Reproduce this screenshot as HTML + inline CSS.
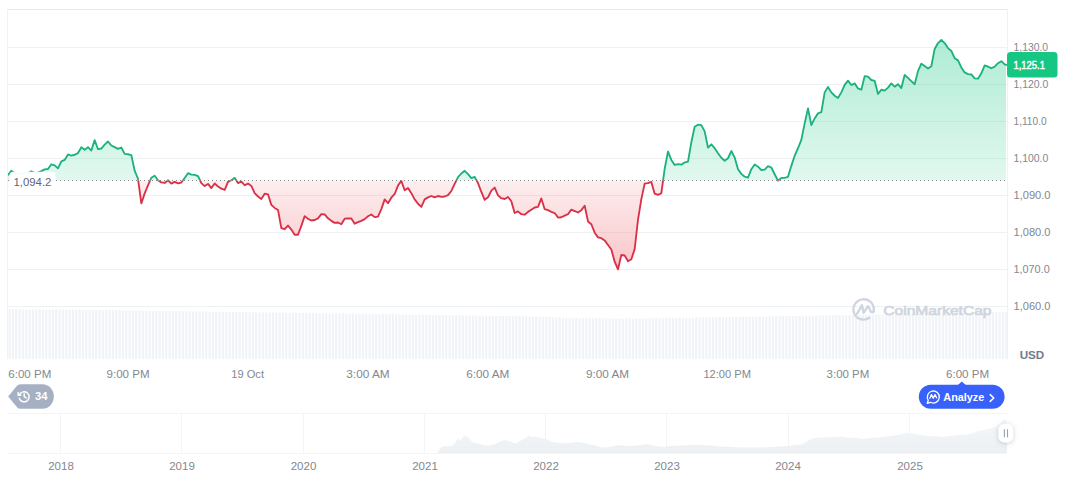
<!DOCTYPE html>
<html><head><meta charset="utf-8"><title>Chart</title>
<style>
html,body{margin:0;padding:0;background:#fff;}
body{width:1072px;height:477px;overflow:hidden;font-family:"Liberation Sans",sans-serif;}
svg{display:block;font-family:"Liberation Sans",sans-serif;}
.ax text{font-size:11px;fill:#838790;}
.grid line{stroke:#f0f1f3;stroke-width:1;}
.nv line{stroke:#f3f4f6;}
</style></head><body>
<svg width="1072" height="477" viewBox="0 0 1072 477">
<defs>
<linearGradient id="gg" gradientUnits="userSpaceOnUse" x1="0" y1="38" x2="0" y2="180.5">
<stop offset="0" stop-color="#16c784" stop-opacity="0.345"/><stop offset="1" stop-color="#16c784" stop-opacity="0.127"/></linearGradient>
<linearGradient id="rg" gradientUnits="userSpaceOnUse" x1="0" y1="180.5" x2="0" y2="270">
<stop offset="0" stop-color="#ea3943" stop-opacity="0.086"/><stop offset="1" stop-color="#ea3943" stop-opacity="0.29"/></linearGradient>
<linearGradient id="ng" gradientUnits="userSpaceOnUse" x1="0" y1="418" x2="0" y2="453"><stop offset="0" stop-color="#f5f7f9"/><stop offset="1" stop-color="#edf0f3"/></linearGradient>
<clipPath id="up"><rect x="0" y="0" width="1072" height="180.5"/></clipPath>
<clipPath id="dn"><rect x="0" y="180.5" width="1072" height="300"/></clipPath>
<clipPath id="plotf"><rect x="8" y="0" width="998" height="400"/></clipPath>
<clipPath id="plot"><rect x="8" y="0" width="999.5" height="400"/></clipPath>
<filter id="sh" x="-50%" y="-50%" width="200%" height="200%"><feDropShadow dx="0" dy="1" stdDeviation="2.4" flood-color="#58667e" flood-opacity="0.32"/></filter>
</defs>
<rect width="1072" height="477" fill="#fff"/>
<g class="grid"><line x1="8" x2="1008" y1="47.5" y2="47.5"/><line x1="8" x2="1008" y1="84.5" y2="84.5"/><line x1="8" x2="1008" y1="121.5" y2="121.5"/><line x1="8" x2="1008" y1="158.5" y2="158.5"/><line x1="8" x2="1008" y1="195.5" y2="195.5"/><line x1="8" x2="1008" y1="232.5" y2="232.5"/><line x1="8" x2="1008" y1="269.5" y2="269.5"/><line x1="8" x2="1008" y1="306.5" y2="306.5"/>
<line x1="7.5" x2="1008" y1="9.5" y2="9.5" style="stroke:#e7e8ea"/>
<line x1="7.5" x2="7.5" y1="9" y2="359" style="stroke:#f1f2f4"/>
<line x1="1007.5" x2="1007.5" y1="9" y2="359"/>
</g>
<path d="M8.50,309.30h2.2V358.8h-2.2ZM11.83,309.32h2.2V358.8h-2.2ZM15.17,309.34h2.2V358.8h-2.2ZM18.50,309.36h2.2V358.8h-2.2ZM21.83,309.38h2.2V358.8h-2.2ZM25.17,309.40h2.2V358.8h-2.2ZM28.50,309.42h2.2V358.8h-2.2ZM31.83,309.43h2.2V358.8h-2.2ZM35.17,309.45h2.2V358.8h-2.2ZM38.50,309.47h2.2V358.8h-2.2ZM41.83,309.49h2.2V358.8h-2.2ZM45.17,309.51h2.2V358.8h-2.2ZM48.50,309.53h2.2V358.8h-2.2ZM51.83,309.55h2.2V358.8h-2.2ZM55.17,309.57h2.2V358.8h-2.2ZM58.50,309.59h2.2V358.8h-2.2ZM61.83,309.62h2.2V358.8h-2.2ZM65.17,309.66h2.2V358.8h-2.2ZM68.50,309.70h2.2V358.8h-2.2ZM71.83,309.75h2.2V358.8h-2.2ZM75.17,309.79h2.2V358.8h-2.2ZM78.50,309.83h2.2V358.8h-2.2ZM81.83,309.87h2.2V358.8h-2.2ZM85.17,309.92h2.2V358.8h-2.2ZM88.50,309.96h2.2V358.8h-2.2ZM91.83,310.00h2.2V358.8h-2.2ZM95.17,310.05h2.2V358.8h-2.2ZM98.50,310.09h2.2V358.8h-2.2ZM101.83,310.13h2.2V358.8h-2.2ZM105.17,310.17h2.2V358.8h-2.2ZM108.50,310.22h2.2V358.8h-2.2ZM111.83,310.26h2.2V358.8h-2.2ZM115.17,310.30h2.2V358.8h-2.2ZM118.50,310.35h2.2V358.8h-2.2ZM121.83,310.39h2.2V358.8h-2.2ZM125.17,310.43h2.2V358.8h-2.2ZM128.50,310.47h2.2V358.8h-2.2ZM131.83,310.52h2.2V358.8h-2.2ZM135.17,310.57h2.2V358.8h-2.2ZM138.50,310.62h2.2V358.8h-2.2ZM141.83,310.66h2.2V358.8h-2.2ZM145.17,310.71h2.2V358.8h-2.2ZM148.50,310.76h2.2V358.8h-2.2ZM151.83,310.81h2.2V358.8h-2.2ZM155.17,310.86h2.2V358.8h-2.2ZM158.50,310.91h2.2V358.8h-2.2ZM161.83,310.95h2.2V358.8h-2.2ZM165.17,311.00h2.2V358.8h-2.2ZM168.50,311.05h2.2V358.8h-2.2ZM171.83,311.10h2.2V358.8h-2.2ZM175.17,311.15h2.2V358.8h-2.2ZM178.50,311.20h2.2V358.8h-2.2ZM181.83,311.24h2.2V358.8h-2.2ZM185.17,311.29h2.2V358.8h-2.2ZM188.50,311.34h2.2V358.8h-2.2ZM191.83,311.39h2.2V358.8h-2.2ZM195.17,311.44h2.2V358.8h-2.2ZM198.50,311.49h2.2V358.8h-2.2ZM201.83,311.53h2.2V358.8h-2.2ZM205.17,311.58h2.2V358.8h-2.2ZM208.50,311.63h2.2V358.8h-2.2ZM211.83,311.68h2.2V358.8h-2.2ZM215.17,311.73h2.2V358.8h-2.2ZM218.50,311.78h2.2V358.8h-2.2ZM221.83,311.82h2.2V358.8h-2.2ZM225.17,311.87h2.2V358.8h-2.2ZM228.50,311.92h2.2V358.8h-2.2ZM231.83,311.97h2.2V358.8h-2.2ZM235.17,312.02h2.2V358.8h-2.2ZM238.50,312.07h2.2V358.8h-2.2ZM241.83,312.11h2.2V358.8h-2.2ZM245.17,312.16h2.2V358.8h-2.2ZM248.50,312.21h2.2V358.8h-2.2ZM251.83,312.26h2.2V358.8h-2.2ZM255.17,312.31h2.2V358.8h-2.2ZM258.50,312.36h2.2V358.8h-2.2ZM261.83,312.40h2.2V358.8h-2.2ZM265.17,312.45h2.2V358.8h-2.2ZM268.50,312.50h2.2V358.8h-2.2ZM271.83,312.55h2.2V358.8h-2.2ZM275.17,312.60h2.2V358.8h-2.2ZM278.50,312.65h2.2V358.8h-2.2ZM281.83,312.70h2.2V358.8h-2.2ZM285.17,312.75h2.2V358.8h-2.2ZM288.50,312.80h2.2V358.8h-2.2ZM291.83,312.85h2.2V358.8h-2.2ZM295.17,312.90h2.2V358.8h-2.2ZM298.50,312.95h2.2V358.8h-2.2ZM301.83,313.01h2.2V358.8h-2.2ZM305.17,313.06h2.2V358.8h-2.2ZM308.50,313.11h2.2V358.8h-2.2ZM311.83,313.16h2.2V358.8h-2.2ZM315.17,313.21h2.2V358.8h-2.2ZM318.50,313.26h2.2V358.8h-2.2ZM321.83,313.31h2.2V358.8h-2.2ZM325.17,313.36h2.2V358.8h-2.2ZM328.50,313.41h2.2V358.8h-2.2ZM331.83,313.46h2.2V358.8h-2.2ZM335.17,313.51h2.2V358.8h-2.2ZM338.50,313.56h2.2V358.8h-2.2ZM341.83,313.61h2.2V358.8h-2.2ZM345.17,313.66h2.2V358.8h-2.2ZM348.50,313.71h2.2V358.8h-2.2ZM351.83,313.76h2.2V358.8h-2.2ZM355.17,313.81h2.2V358.8h-2.2ZM358.50,313.86h2.2V358.8h-2.2ZM361.83,313.91h2.2V358.8h-2.2ZM365.17,313.96h2.2V358.8h-2.2ZM368.50,314.02h2.2V358.8h-2.2ZM371.83,314.07h2.2V358.8h-2.2ZM375.17,314.12h2.2V358.8h-2.2ZM378.50,314.17h2.2V358.8h-2.2ZM381.83,314.22h2.2V358.8h-2.2ZM385.17,314.27h2.2V358.8h-2.2ZM388.50,314.32h2.2V358.8h-2.2ZM391.83,314.37h2.2V358.8h-2.2ZM395.17,314.42h2.2V358.8h-2.2ZM398.50,314.47h2.2V358.8h-2.2ZM401.83,314.52h2.2V358.8h-2.2ZM405.17,314.57h2.2V358.8h-2.2ZM408.50,314.62h2.2V358.8h-2.2ZM411.83,314.67h2.2V358.8h-2.2ZM415.17,314.72h2.2V358.8h-2.2ZM418.50,314.76h2.2V358.8h-2.2ZM421.83,314.81h2.2V358.8h-2.2ZM425.17,314.86h2.2V358.8h-2.2ZM428.50,314.91h2.2V358.8h-2.2ZM431.83,314.96h2.2V358.8h-2.2ZM435.17,315.01h2.2V358.8h-2.2ZM438.50,315.06h2.2V358.8h-2.2ZM441.83,315.11h2.2V358.8h-2.2ZM445.17,315.16h2.2V358.8h-2.2ZM448.50,315.21h2.2V358.8h-2.2ZM451.83,315.25h2.2V358.8h-2.2ZM455.17,315.30h2.2V358.8h-2.2ZM458.50,315.35h2.2V358.8h-2.2ZM461.83,315.40h2.2V358.8h-2.2ZM465.17,315.45h2.2V358.8h-2.2ZM468.50,315.50h2.2V358.8h-2.2ZM471.83,315.55h2.2V358.8h-2.2ZM475.17,315.60h2.2V358.8h-2.2ZM478.50,315.65h2.2V358.8h-2.2ZM481.83,315.70h2.2V358.8h-2.2ZM485.17,315.75h2.2V358.8h-2.2ZM488.50,315.79h2.2V358.8h-2.2ZM491.83,315.84h2.2V358.8h-2.2ZM495.17,315.89h2.2V358.8h-2.2ZM498.50,315.94h2.2V358.8h-2.2ZM501.83,315.99h2.2V358.8h-2.2ZM505.17,316.04h2.2V358.8h-2.2ZM508.50,316.09h2.2V358.8h-2.2ZM511.83,316.14h2.2V358.8h-2.2ZM515.17,316.19h2.2V358.8h-2.2ZM518.50,316.24h2.2V358.8h-2.2ZM521.83,316.28h2.2V358.8h-2.2ZM525.17,316.33h2.2V358.8h-2.2ZM528.50,316.38h2.2V358.8h-2.2ZM531.83,316.43h2.2V358.8h-2.2ZM535.17,316.48h2.2V358.8h-2.2ZM538.50,316.58h2.2V358.8h-2.2ZM541.83,316.72h2.2V358.8h-2.2ZM545.17,316.85h2.2V358.8h-2.2ZM548.50,316.99h2.2V358.8h-2.2ZM551.83,317.13h2.2V358.8h-2.2ZM555.17,317.26h2.2V358.8h-2.2ZM558.50,317.40h2.2V358.8h-2.2ZM561.83,317.54h2.2V358.8h-2.2ZM565.17,317.67h2.2V358.8h-2.2ZM568.50,317.81h2.2V358.8h-2.2ZM571.83,317.95h2.2V358.8h-2.2ZM575.17,318.08h2.2V358.8h-2.2ZM578.50,318.22h2.2V358.8h-2.2ZM581.83,318.30h2.2V358.8h-2.2ZM585.17,318.32h2.2V358.8h-2.2ZM588.50,318.33h2.2V358.8h-2.2ZM591.83,318.34h2.2V358.8h-2.2ZM595.17,318.35h2.2V358.8h-2.2ZM598.50,318.36h2.2V358.8h-2.2ZM601.83,318.37h2.2V358.8h-2.2ZM605.17,318.38h2.2V358.8h-2.2ZM608.50,318.39h2.2V358.8h-2.2ZM611.83,318.40h2.2V358.8h-2.2ZM615.17,318.42h2.2V358.8h-2.2ZM618.50,318.43h2.2V358.8h-2.2ZM621.83,318.44h2.2V358.8h-2.2ZM625.17,318.45h2.2V358.8h-2.2ZM628.50,318.46h2.2V358.8h-2.2ZM631.83,318.47h2.2V358.8h-2.2ZM635.17,318.48h2.2V358.8h-2.2ZM638.50,318.49h2.2V358.8h-2.2ZM641.83,318.48h2.2V358.8h-2.2ZM645.17,318.42h2.2V358.8h-2.2ZM648.50,318.37h2.2V358.8h-2.2ZM651.83,318.31h2.2V358.8h-2.2ZM655.17,318.26h2.2V358.8h-2.2ZM658.50,318.20h2.2V358.8h-2.2ZM661.83,318.14h2.2V358.8h-2.2ZM665.17,318.09h2.2V358.8h-2.2ZM668.50,318.03h2.2V358.8h-2.2ZM671.83,317.98h2.2V358.8h-2.2ZM675.17,317.92h2.2V358.8h-2.2ZM678.50,317.87h2.2V358.8h-2.2ZM681.83,317.81h2.2V358.8h-2.2ZM685.17,317.76h2.2V358.8h-2.2ZM688.50,317.70h2.2V358.8h-2.2ZM691.83,317.64h2.2V358.8h-2.2ZM695.17,317.59h2.2V358.8h-2.2ZM698.50,317.53h2.2V358.8h-2.2ZM701.83,317.48h2.2V358.8h-2.2ZM705.17,317.42h2.2V358.8h-2.2ZM708.50,317.37h2.2V358.8h-2.2ZM711.83,317.31h2.2V358.8h-2.2ZM715.17,317.26h2.2V358.8h-2.2ZM718.50,317.20h2.2V358.8h-2.2ZM721.83,317.14h2.2V358.8h-2.2ZM725.17,317.09h2.2V358.8h-2.2ZM728.50,317.03h2.2V358.8h-2.2ZM731.83,316.98h2.2V358.8h-2.2ZM735.17,316.92h2.2V358.8h-2.2ZM738.50,316.87h2.2V358.8h-2.2ZM741.83,316.81h2.2V358.8h-2.2ZM745.17,316.76h2.2V358.8h-2.2ZM748.50,316.70h2.2V358.8h-2.2ZM751.83,316.64h2.2V358.8h-2.2ZM755.17,316.59h2.2V358.8h-2.2ZM758.50,316.53h2.2V358.8h-2.2ZM761.83,316.48h2.2V358.8h-2.2ZM765.17,316.42h2.2V358.8h-2.2ZM768.50,316.37h2.2V358.8h-2.2ZM771.83,316.31h2.2V358.8h-2.2ZM775.17,316.26h2.2V358.8h-2.2ZM778.50,316.20h2.2V358.8h-2.2ZM781.83,316.14h2.2V358.8h-2.2ZM785.17,316.09h2.2V358.8h-2.2ZM788.50,316.03h2.2V358.8h-2.2ZM791.83,315.98h2.2V358.8h-2.2ZM795.17,315.92h2.2V358.8h-2.2ZM798.50,315.87h2.2V358.8h-2.2ZM801.83,315.81h2.2V358.8h-2.2ZM805.17,315.76h2.2V358.8h-2.2ZM808.50,315.70h2.2V358.8h-2.2ZM811.83,315.64h2.2V358.8h-2.2ZM815.17,315.59h2.2V358.8h-2.2ZM818.50,315.53h2.2V358.8h-2.2ZM821.83,315.48h2.2V358.8h-2.2ZM825.17,315.42h2.2V358.8h-2.2ZM828.50,315.37h2.2V358.8h-2.2ZM831.83,315.31h2.2V358.8h-2.2ZM835.17,315.26h2.2V358.8h-2.2ZM838.50,315.20h2.2V358.8h-2.2ZM841.83,315.14h2.2V358.8h-2.2ZM845.17,315.09h2.2V358.8h-2.2ZM848.50,315.03h2.2V358.8h-2.2ZM851.83,314.98h2.2V358.8h-2.2ZM855.17,314.91h2.2V358.8h-2.2ZM858.50,314.85h2.2V358.8h-2.2ZM861.83,314.79h2.2V358.8h-2.2ZM865.17,314.73h2.2V358.8h-2.2ZM868.50,314.66h2.2V358.8h-2.2ZM871.83,314.60h2.2V358.8h-2.2ZM875.17,314.54h2.2V358.8h-2.2ZM878.50,314.48h2.2V358.8h-2.2ZM881.83,314.41h2.2V358.8h-2.2ZM885.17,314.35h2.2V358.8h-2.2ZM888.50,314.29h2.2V358.8h-2.2ZM891.83,314.23h2.2V358.8h-2.2ZM895.17,314.16h2.2V358.8h-2.2ZM898.50,314.10h2.2V358.8h-2.2ZM901.83,314.04h2.2V358.8h-2.2ZM905.17,313.98h2.2V358.8h-2.2ZM908.50,313.91h2.2V358.8h-2.2ZM911.83,313.85h2.2V358.8h-2.2ZM915.17,313.79h2.2V358.8h-2.2ZM918.50,313.73h2.2V358.8h-2.2ZM921.83,313.66h2.2V358.8h-2.2ZM925.17,313.60h2.2V358.8h-2.2ZM928.50,313.54h2.2V358.8h-2.2ZM931.83,313.47h2.2V358.8h-2.2ZM935.17,313.41h2.2V358.8h-2.2ZM938.50,313.34h2.2V358.8h-2.2ZM941.83,313.28h2.2V358.8h-2.2ZM945.17,313.21h2.2V358.8h-2.2ZM948.50,313.15h2.2V358.8h-2.2ZM951.83,313.08h2.2V358.8h-2.2ZM955.17,313.02h2.2V358.8h-2.2ZM958.50,312.95h2.2V358.8h-2.2ZM961.83,312.89h2.2V358.8h-2.2ZM965.17,312.82h2.2V358.8h-2.2ZM968.50,312.76h2.2V358.8h-2.2ZM971.83,312.69h2.2V358.8h-2.2ZM975.17,312.63h2.2V358.8h-2.2ZM978.50,312.56h2.2V358.8h-2.2ZM981.83,312.50h2.2V358.8h-2.2ZM985.17,312.44h2.2V358.8h-2.2ZM988.50,312.37h2.2V358.8h-2.2ZM991.83,312.31h2.2V358.8h-2.2ZM995.17,312.24h2.2V358.8h-2.2ZM998.50,312.18h2.2V358.8h-2.2ZM1001.83,312.11h2.2V358.8h-2.2ZM1005.17,312.05h2.2V358.8h-2.2Z" fill="#f0f3f7"/>
<g clip-path="url(#plotf)">
<g clip-path="url(#up)"><path d="M8.00,174.90 L11.33,170.70 L14.67,173.20 L18.00,173.70 L21.33,173.70 L24.67,173.40 L28.00,173.20 L31.33,171.40 L34.67,172.90 L38.00,172.70 L41.33,171.10 L44.67,169.36 L48.00,169.02 L51.33,164.32 L54.67,165.33 L58.00,168.35 L61.33,161.46 L64.67,159.95 L68.00,154.41 L71.33,155.59 L74.67,154.75 L78.00,153.07 L81.33,147.19 L84.67,149.71 L88.00,147.19 L91.33,150.55 L94.67,140.14 L98.00,149.21 L101.33,148.53 L104.67,144.67 L108.00,141.48 L111.33,145.51 L114.67,147.19 L118.00,148.87 L121.33,147.53 L124.67,153.91 L128.00,154.24 L131.33,155.08 L134.67,170.70 L138.00,178.76 L141.33,203.44 L144.67,193.37 L148.00,185.47 L151.33,177.75 L154.67,175.70 L158.00,180.27 L161.33,182.45 L164.67,182.96 L168.00,180.27 L171.33,183.57 L174.67,181.89 L178.00,183.40 L181.33,182.56 L184.67,178.03 L188.00,173.16 L191.33,174.67 L194.67,174.84 L198.00,176.02 L201.33,183.07 L204.67,186.09 L208.00,183.91 L211.33,188.11 L214.67,183.57 L218.00,186.43 L221.33,188.61 L224.67,189.78 L228.00,181.89 L231.33,180.21 L234.67,177.86 L238.00,183.07 L241.33,181.56 L244.67,185.25 L248.00,183.57 L251.33,185.92 L254.67,193.14 L258.00,196.50 L261.33,199.02 L264.67,193.65 L268.00,194.32 L271.33,204.90 L274.67,207.92 L278.00,209.93 L281.33,228.07 L284.67,229.24 L288.00,225.55 L291.33,229.58 L294.67,234.78 L298.00,234.78 L301.33,225.89 L304.67,216.15 L308.00,218.83 L311.33,220.51 L314.67,220.01 L318.00,218.33 L321.33,214.13 L324.67,214.47 L328.00,218.33 L331.33,220.85 L334.67,222.86 L338.00,222.53 L341.33,224.21 L344.67,218.66 L348.00,218.33 L351.33,218.50 L354.67,223.70 L358.00,222.19 L361.33,220.85 L364.67,219.17 L368.00,216.31 L371.33,214.47 L374.67,217.15 L378.00,216.65 L381.33,209.09 L384.67,199.36 L388.00,203.22 L391.33,197.68 L394.67,193.98 L398.00,185.59 L401.33,180.89 L404.67,190.29 L408.00,188.11 L411.33,193.14 L414.67,199.36 L418.00,203.72 L421.33,206.91 L424.67,199.36 L428.00,197.34 L431.33,196.00 L434.67,197.34 L438.00,196.00 L441.33,196.84 L444.67,196.50 L448.00,195.16 L451.33,190.96 L454.67,183.91 L458.00,177.19 L461.33,173.50 L464.67,170.81 L468.00,174.17 L471.33,178.03 L474.67,176.86 L478.00,183.07 L481.33,191.97 L484.67,199.86 L488.00,197.34 L491.33,190.62 L494.67,187.60 L498.00,195.33 L501.33,198.18 L504.67,199.02 L508.00,197.00 L511.33,201.28 L514.67,213.03 L518.00,211.35 L521.33,214.21 L524.67,214.71 L528.00,211.86 L531.33,209.67 L534.67,207.49 L538.00,206.82 L541.33,198.42 L544.67,209.17 L548.00,210.18 L551.33,211.86 L554.67,213.03 L558.00,217.56 L561.33,217.23 L564.67,215.55 L568.00,214.21 L571.33,209.67 L574.67,211.02 L578.00,212.53 L581.33,210.18 L584.67,205.81 L588.00,221.43 L591.33,224.28 L594.67,232.68 L598.00,237.38 L601.33,238.22 L604.67,240.40 L608.00,244.93 L611.33,249.47 L614.67,261.72 L618.00,269.28 L621.33,255.01 L624.67,255.51 L628.00,261.22 L631.33,259.21 L634.67,249.13 L638.00,219.75 L641.33,199.09 L644.67,183.65 L648.00,183.14 L651.33,181.97 L654.67,193.72 L658.00,194.90 L661.33,193.22 L664.67,168.87 L668.00,151.54 L671.33,159.93 L674.67,164.97 L678.00,164.13 L681.33,164.64 L684.67,162.45 L688.00,161.61 L691.33,142.30 L694.67,126.69 L698.00,124.67 L701.33,125.18 L704.67,131.39 L708.00,147.68 L711.33,144.32 L714.67,148.18 L718.00,153.22 L721.33,157.75 L724.67,160.77 L728.00,158.25 L731.33,151.03 L734.67,157.41 L738.00,169.17 L741.33,173.87 L744.67,176.72 L748.00,177.56 L751.33,169.17 L754.67,164.47 L758.00,166.65 L761.33,170.05 L764.67,169.54 L768.00,166.18 L771.33,167.53 L774.67,174.24 L778.00,180.62 L781.33,177.94 L784.67,177.94 L788.00,176.76 L791.33,165.85 L794.67,155.77 L798.00,148.22 L801.33,139.82 L804.67,123.44 L808.00,108.33 L811.33,125.12 L814.67,118.40 L818.00,113.37 L821.33,112.19 L824.67,92.38 L828.00,87.00 L831.33,92.38 L834.67,95.74 L838.00,97.92 L841.33,92.38 L844.67,84.82 L848.00,80.62 L851.33,85.05 L854.67,83.37 L858.00,88.40 L861.33,89.75 L864.67,76.15 L868.00,76.65 L871.33,80.01 L874.67,80.85 L878.00,93.94 L881.33,89.75 L884.67,90.59 L888.00,87.56 L891.33,83.37 L894.67,86.72 L898.00,84.21 L901.33,88.07 L904.67,74.97 L908.00,77.83 L911.33,81.18 L914.67,84.21 L918.00,71.11 L921.33,63.72 L924.67,66.07 L928.00,68.59 L931.33,66.24 L934.67,48.94 L938.00,43.07 L941.33,40.01 L944.67,43.07 L948.00,48.11 L951.33,50.96 L954.67,58.18 L958.00,60.36 L961.33,67.41 L964.67,72.45 L968.00,74.13 L971.33,74.47 L974.67,78.33 L978.00,78.66 L981.33,73.29 L984.67,65.40 L988.00,66.58 L991.33,68.25 L994.67,66.58 L998.00,63.22 L1001.33,61.20 L1004.67,64.39 L1008.00,65.23 L1008.00,180.5 L8.00,180.5 Z" fill="url(#gg)"/></g>
<g clip-path="url(#dn)"><path d="M8.00,174.90 L11.33,170.70 L14.67,173.20 L18.00,173.70 L21.33,173.70 L24.67,173.40 L28.00,173.20 L31.33,171.40 L34.67,172.90 L38.00,172.70 L41.33,171.10 L44.67,169.36 L48.00,169.02 L51.33,164.32 L54.67,165.33 L58.00,168.35 L61.33,161.46 L64.67,159.95 L68.00,154.41 L71.33,155.59 L74.67,154.75 L78.00,153.07 L81.33,147.19 L84.67,149.71 L88.00,147.19 L91.33,150.55 L94.67,140.14 L98.00,149.21 L101.33,148.53 L104.67,144.67 L108.00,141.48 L111.33,145.51 L114.67,147.19 L118.00,148.87 L121.33,147.53 L124.67,153.91 L128.00,154.24 L131.33,155.08 L134.67,170.70 L138.00,178.76 L141.33,203.44 L144.67,193.37 L148.00,185.47 L151.33,177.75 L154.67,175.70 L158.00,180.27 L161.33,182.45 L164.67,182.96 L168.00,180.27 L171.33,183.57 L174.67,181.89 L178.00,183.40 L181.33,182.56 L184.67,178.03 L188.00,173.16 L191.33,174.67 L194.67,174.84 L198.00,176.02 L201.33,183.07 L204.67,186.09 L208.00,183.91 L211.33,188.11 L214.67,183.57 L218.00,186.43 L221.33,188.61 L224.67,189.78 L228.00,181.89 L231.33,180.21 L234.67,177.86 L238.00,183.07 L241.33,181.56 L244.67,185.25 L248.00,183.57 L251.33,185.92 L254.67,193.14 L258.00,196.50 L261.33,199.02 L264.67,193.65 L268.00,194.32 L271.33,204.90 L274.67,207.92 L278.00,209.93 L281.33,228.07 L284.67,229.24 L288.00,225.55 L291.33,229.58 L294.67,234.78 L298.00,234.78 L301.33,225.89 L304.67,216.15 L308.00,218.83 L311.33,220.51 L314.67,220.01 L318.00,218.33 L321.33,214.13 L324.67,214.47 L328.00,218.33 L331.33,220.85 L334.67,222.86 L338.00,222.53 L341.33,224.21 L344.67,218.66 L348.00,218.33 L351.33,218.50 L354.67,223.70 L358.00,222.19 L361.33,220.85 L364.67,219.17 L368.00,216.31 L371.33,214.47 L374.67,217.15 L378.00,216.65 L381.33,209.09 L384.67,199.36 L388.00,203.22 L391.33,197.68 L394.67,193.98 L398.00,185.59 L401.33,180.89 L404.67,190.29 L408.00,188.11 L411.33,193.14 L414.67,199.36 L418.00,203.72 L421.33,206.91 L424.67,199.36 L428.00,197.34 L431.33,196.00 L434.67,197.34 L438.00,196.00 L441.33,196.84 L444.67,196.50 L448.00,195.16 L451.33,190.96 L454.67,183.91 L458.00,177.19 L461.33,173.50 L464.67,170.81 L468.00,174.17 L471.33,178.03 L474.67,176.86 L478.00,183.07 L481.33,191.97 L484.67,199.86 L488.00,197.34 L491.33,190.62 L494.67,187.60 L498.00,195.33 L501.33,198.18 L504.67,199.02 L508.00,197.00 L511.33,201.28 L514.67,213.03 L518.00,211.35 L521.33,214.21 L524.67,214.71 L528.00,211.86 L531.33,209.67 L534.67,207.49 L538.00,206.82 L541.33,198.42 L544.67,209.17 L548.00,210.18 L551.33,211.86 L554.67,213.03 L558.00,217.56 L561.33,217.23 L564.67,215.55 L568.00,214.21 L571.33,209.67 L574.67,211.02 L578.00,212.53 L581.33,210.18 L584.67,205.81 L588.00,221.43 L591.33,224.28 L594.67,232.68 L598.00,237.38 L601.33,238.22 L604.67,240.40 L608.00,244.93 L611.33,249.47 L614.67,261.72 L618.00,269.28 L621.33,255.01 L624.67,255.51 L628.00,261.22 L631.33,259.21 L634.67,249.13 L638.00,219.75 L641.33,199.09 L644.67,183.65 L648.00,183.14 L651.33,181.97 L654.67,193.72 L658.00,194.90 L661.33,193.22 L664.67,168.87 L668.00,151.54 L671.33,159.93 L674.67,164.97 L678.00,164.13 L681.33,164.64 L684.67,162.45 L688.00,161.61 L691.33,142.30 L694.67,126.69 L698.00,124.67 L701.33,125.18 L704.67,131.39 L708.00,147.68 L711.33,144.32 L714.67,148.18 L718.00,153.22 L721.33,157.75 L724.67,160.77 L728.00,158.25 L731.33,151.03 L734.67,157.41 L738.00,169.17 L741.33,173.87 L744.67,176.72 L748.00,177.56 L751.33,169.17 L754.67,164.47 L758.00,166.65 L761.33,170.05 L764.67,169.54 L768.00,166.18 L771.33,167.53 L774.67,174.24 L778.00,180.62 L781.33,177.94 L784.67,177.94 L788.00,176.76 L791.33,165.85 L794.67,155.77 L798.00,148.22 L801.33,139.82 L804.67,123.44 L808.00,108.33 L811.33,125.12 L814.67,118.40 L818.00,113.37 L821.33,112.19 L824.67,92.38 L828.00,87.00 L831.33,92.38 L834.67,95.74 L838.00,97.92 L841.33,92.38 L844.67,84.82 L848.00,80.62 L851.33,85.05 L854.67,83.37 L858.00,88.40 L861.33,89.75 L864.67,76.15 L868.00,76.65 L871.33,80.01 L874.67,80.85 L878.00,93.94 L881.33,89.75 L884.67,90.59 L888.00,87.56 L891.33,83.37 L894.67,86.72 L898.00,84.21 L901.33,88.07 L904.67,74.97 L908.00,77.83 L911.33,81.18 L914.67,84.21 L918.00,71.11 L921.33,63.72 L924.67,66.07 L928.00,68.59 L931.33,66.24 L934.67,48.94 L938.00,43.07 L941.33,40.01 L944.67,43.07 L948.00,48.11 L951.33,50.96 L954.67,58.18 L958.00,60.36 L961.33,67.41 L964.67,72.45 L968.00,74.13 L971.33,74.47 L974.67,78.33 L978.00,78.66 L981.33,73.29 L984.67,65.40 L988.00,66.58 L991.33,68.25 L994.67,66.58 L998.00,63.22 L1001.33,61.20 L1004.67,64.39 L1008.00,65.23 L1008.00,180.5 L8.00,180.5 Z" fill="url(#rg)"/></g>
</g>
<line x1="8" x2="1008" y1="180.5" y2="180.5" stroke="#8a8a8a" stroke-width="1" stroke-dasharray="1 3"/>
<g clip-path="url(#plot)" fill="none" stroke-width="1.85" stroke-linejoin="round" stroke-linecap="round">
<g clip-path="url(#up)"><path d="M8.00,174.90 L11.33,170.70 L14.67,173.20 L18.00,173.70 L21.33,173.70 L24.67,173.40 L28.00,173.20 L31.33,171.40 L34.67,172.90 L38.00,172.70 L41.33,171.10 L44.67,169.36 L48.00,169.02 L51.33,164.32 L54.67,165.33 L58.00,168.35 L61.33,161.46 L64.67,159.95 L68.00,154.41 L71.33,155.59 L74.67,154.75 L78.00,153.07 L81.33,147.19 L84.67,149.71 L88.00,147.19 L91.33,150.55 L94.67,140.14 L98.00,149.21 L101.33,148.53 L104.67,144.67 L108.00,141.48 L111.33,145.51 L114.67,147.19 L118.00,148.87 L121.33,147.53 L124.67,153.91 L128.00,154.24 L131.33,155.08 L134.67,170.70 L138.00,178.76 L141.33,203.44 L144.67,193.37 L148.00,185.47 L151.33,177.75 L154.67,175.70 L158.00,180.27 L161.33,182.45 L164.67,182.96 L168.00,180.27 L171.33,183.57 L174.67,181.89 L178.00,183.40 L181.33,182.56 L184.67,178.03 L188.00,173.16 L191.33,174.67 L194.67,174.84 L198.00,176.02 L201.33,183.07 L204.67,186.09 L208.00,183.91 L211.33,188.11 L214.67,183.57 L218.00,186.43 L221.33,188.61 L224.67,189.78 L228.00,181.89 L231.33,180.21 L234.67,177.86 L238.00,183.07 L241.33,181.56 L244.67,185.25 L248.00,183.57 L251.33,185.92 L254.67,193.14 L258.00,196.50 L261.33,199.02 L264.67,193.65 L268.00,194.32 L271.33,204.90 L274.67,207.92 L278.00,209.93 L281.33,228.07 L284.67,229.24 L288.00,225.55 L291.33,229.58 L294.67,234.78 L298.00,234.78 L301.33,225.89 L304.67,216.15 L308.00,218.83 L311.33,220.51 L314.67,220.01 L318.00,218.33 L321.33,214.13 L324.67,214.47 L328.00,218.33 L331.33,220.85 L334.67,222.86 L338.00,222.53 L341.33,224.21 L344.67,218.66 L348.00,218.33 L351.33,218.50 L354.67,223.70 L358.00,222.19 L361.33,220.85 L364.67,219.17 L368.00,216.31 L371.33,214.47 L374.67,217.15 L378.00,216.65 L381.33,209.09 L384.67,199.36 L388.00,203.22 L391.33,197.68 L394.67,193.98 L398.00,185.59 L401.33,180.89 L404.67,190.29 L408.00,188.11 L411.33,193.14 L414.67,199.36 L418.00,203.72 L421.33,206.91 L424.67,199.36 L428.00,197.34 L431.33,196.00 L434.67,197.34 L438.00,196.00 L441.33,196.84 L444.67,196.50 L448.00,195.16 L451.33,190.96 L454.67,183.91 L458.00,177.19 L461.33,173.50 L464.67,170.81 L468.00,174.17 L471.33,178.03 L474.67,176.86 L478.00,183.07 L481.33,191.97 L484.67,199.86 L488.00,197.34 L491.33,190.62 L494.67,187.60 L498.00,195.33 L501.33,198.18 L504.67,199.02 L508.00,197.00 L511.33,201.28 L514.67,213.03 L518.00,211.35 L521.33,214.21 L524.67,214.71 L528.00,211.86 L531.33,209.67 L534.67,207.49 L538.00,206.82 L541.33,198.42 L544.67,209.17 L548.00,210.18 L551.33,211.86 L554.67,213.03 L558.00,217.56 L561.33,217.23 L564.67,215.55 L568.00,214.21 L571.33,209.67 L574.67,211.02 L578.00,212.53 L581.33,210.18 L584.67,205.81 L588.00,221.43 L591.33,224.28 L594.67,232.68 L598.00,237.38 L601.33,238.22 L604.67,240.40 L608.00,244.93 L611.33,249.47 L614.67,261.72 L618.00,269.28 L621.33,255.01 L624.67,255.51 L628.00,261.22 L631.33,259.21 L634.67,249.13 L638.00,219.75 L641.33,199.09 L644.67,183.65 L648.00,183.14 L651.33,181.97 L654.67,193.72 L658.00,194.90 L661.33,193.22 L664.67,168.87 L668.00,151.54 L671.33,159.93 L674.67,164.97 L678.00,164.13 L681.33,164.64 L684.67,162.45 L688.00,161.61 L691.33,142.30 L694.67,126.69 L698.00,124.67 L701.33,125.18 L704.67,131.39 L708.00,147.68 L711.33,144.32 L714.67,148.18 L718.00,153.22 L721.33,157.75 L724.67,160.77 L728.00,158.25 L731.33,151.03 L734.67,157.41 L738.00,169.17 L741.33,173.87 L744.67,176.72 L748.00,177.56 L751.33,169.17 L754.67,164.47 L758.00,166.65 L761.33,170.05 L764.67,169.54 L768.00,166.18 L771.33,167.53 L774.67,174.24 L778.00,180.62 L781.33,177.94 L784.67,177.94 L788.00,176.76 L791.33,165.85 L794.67,155.77 L798.00,148.22 L801.33,139.82 L804.67,123.44 L808.00,108.33 L811.33,125.12 L814.67,118.40 L818.00,113.37 L821.33,112.19 L824.67,92.38 L828.00,87.00 L831.33,92.38 L834.67,95.74 L838.00,97.92 L841.33,92.38 L844.67,84.82 L848.00,80.62 L851.33,85.05 L854.67,83.37 L858.00,88.40 L861.33,89.75 L864.67,76.15 L868.00,76.65 L871.33,80.01 L874.67,80.85 L878.00,93.94 L881.33,89.75 L884.67,90.59 L888.00,87.56 L891.33,83.37 L894.67,86.72 L898.00,84.21 L901.33,88.07 L904.67,74.97 L908.00,77.83 L911.33,81.18 L914.67,84.21 L918.00,71.11 L921.33,63.72 L924.67,66.07 L928.00,68.59 L931.33,66.24 L934.67,48.94 L938.00,43.07 L941.33,40.01 L944.67,43.07 L948.00,48.11 L951.33,50.96 L954.67,58.18 L958.00,60.36 L961.33,67.41 L964.67,72.45 L968.00,74.13 L971.33,74.47 L974.67,78.33 L978.00,78.66 L981.33,73.29 L984.67,65.40 L988.00,66.58 L991.33,68.25 L994.67,66.58 L998.00,63.22 L1001.33,61.20 L1004.67,64.39 L1008.00,65.23" stroke="#1bb27e"/></g>
<g clip-path="url(#dn)"><path d="M8.00,174.90 L11.33,170.70 L14.67,173.20 L18.00,173.70 L21.33,173.70 L24.67,173.40 L28.00,173.20 L31.33,171.40 L34.67,172.90 L38.00,172.70 L41.33,171.10 L44.67,169.36 L48.00,169.02 L51.33,164.32 L54.67,165.33 L58.00,168.35 L61.33,161.46 L64.67,159.95 L68.00,154.41 L71.33,155.59 L74.67,154.75 L78.00,153.07 L81.33,147.19 L84.67,149.71 L88.00,147.19 L91.33,150.55 L94.67,140.14 L98.00,149.21 L101.33,148.53 L104.67,144.67 L108.00,141.48 L111.33,145.51 L114.67,147.19 L118.00,148.87 L121.33,147.53 L124.67,153.91 L128.00,154.24 L131.33,155.08 L134.67,170.70 L138.00,178.76 L141.33,203.44 L144.67,193.37 L148.00,185.47 L151.33,177.75 L154.67,175.70 L158.00,180.27 L161.33,182.45 L164.67,182.96 L168.00,180.27 L171.33,183.57 L174.67,181.89 L178.00,183.40 L181.33,182.56 L184.67,178.03 L188.00,173.16 L191.33,174.67 L194.67,174.84 L198.00,176.02 L201.33,183.07 L204.67,186.09 L208.00,183.91 L211.33,188.11 L214.67,183.57 L218.00,186.43 L221.33,188.61 L224.67,189.78 L228.00,181.89 L231.33,180.21 L234.67,177.86 L238.00,183.07 L241.33,181.56 L244.67,185.25 L248.00,183.57 L251.33,185.92 L254.67,193.14 L258.00,196.50 L261.33,199.02 L264.67,193.65 L268.00,194.32 L271.33,204.90 L274.67,207.92 L278.00,209.93 L281.33,228.07 L284.67,229.24 L288.00,225.55 L291.33,229.58 L294.67,234.78 L298.00,234.78 L301.33,225.89 L304.67,216.15 L308.00,218.83 L311.33,220.51 L314.67,220.01 L318.00,218.33 L321.33,214.13 L324.67,214.47 L328.00,218.33 L331.33,220.85 L334.67,222.86 L338.00,222.53 L341.33,224.21 L344.67,218.66 L348.00,218.33 L351.33,218.50 L354.67,223.70 L358.00,222.19 L361.33,220.85 L364.67,219.17 L368.00,216.31 L371.33,214.47 L374.67,217.15 L378.00,216.65 L381.33,209.09 L384.67,199.36 L388.00,203.22 L391.33,197.68 L394.67,193.98 L398.00,185.59 L401.33,180.89 L404.67,190.29 L408.00,188.11 L411.33,193.14 L414.67,199.36 L418.00,203.72 L421.33,206.91 L424.67,199.36 L428.00,197.34 L431.33,196.00 L434.67,197.34 L438.00,196.00 L441.33,196.84 L444.67,196.50 L448.00,195.16 L451.33,190.96 L454.67,183.91 L458.00,177.19 L461.33,173.50 L464.67,170.81 L468.00,174.17 L471.33,178.03 L474.67,176.86 L478.00,183.07 L481.33,191.97 L484.67,199.86 L488.00,197.34 L491.33,190.62 L494.67,187.60 L498.00,195.33 L501.33,198.18 L504.67,199.02 L508.00,197.00 L511.33,201.28 L514.67,213.03 L518.00,211.35 L521.33,214.21 L524.67,214.71 L528.00,211.86 L531.33,209.67 L534.67,207.49 L538.00,206.82 L541.33,198.42 L544.67,209.17 L548.00,210.18 L551.33,211.86 L554.67,213.03 L558.00,217.56 L561.33,217.23 L564.67,215.55 L568.00,214.21 L571.33,209.67 L574.67,211.02 L578.00,212.53 L581.33,210.18 L584.67,205.81 L588.00,221.43 L591.33,224.28 L594.67,232.68 L598.00,237.38 L601.33,238.22 L604.67,240.40 L608.00,244.93 L611.33,249.47 L614.67,261.72 L618.00,269.28 L621.33,255.01 L624.67,255.51 L628.00,261.22 L631.33,259.21 L634.67,249.13 L638.00,219.75 L641.33,199.09 L644.67,183.65 L648.00,183.14 L651.33,181.97 L654.67,193.72 L658.00,194.90 L661.33,193.22 L664.67,168.87 L668.00,151.54 L671.33,159.93 L674.67,164.97 L678.00,164.13 L681.33,164.64 L684.67,162.45 L688.00,161.61 L691.33,142.30 L694.67,126.69 L698.00,124.67 L701.33,125.18 L704.67,131.39 L708.00,147.68 L711.33,144.32 L714.67,148.18 L718.00,153.22 L721.33,157.75 L724.67,160.77 L728.00,158.25 L731.33,151.03 L734.67,157.41 L738.00,169.17 L741.33,173.87 L744.67,176.72 L748.00,177.56 L751.33,169.17 L754.67,164.47 L758.00,166.65 L761.33,170.05 L764.67,169.54 L768.00,166.18 L771.33,167.53 L774.67,174.24 L778.00,180.62 L781.33,177.94 L784.67,177.94 L788.00,176.76 L791.33,165.85 L794.67,155.77 L798.00,148.22 L801.33,139.82 L804.67,123.44 L808.00,108.33 L811.33,125.12 L814.67,118.40 L818.00,113.37 L821.33,112.19 L824.67,92.38 L828.00,87.00 L831.33,92.38 L834.67,95.74 L838.00,97.92 L841.33,92.38 L844.67,84.82 L848.00,80.62 L851.33,85.05 L854.67,83.37 L858.00,88.40 L861.33,89.75 L864.67,76.15 L868.00,76.65 L871.33,80.01 L874.67,80.85 L878.00,93.94 L881.33,89.75 L884.67,90.59 L888.00,87.56 L891.33,83.37 L894.67,86.72 L898.00,84.21 L901.33,88.07 L904.67,74.97 L908.00,77.83 L911.33,81.18 L914.67,84.21 L918.00,71.11 L921.33,63.72 L924.67,66.07 L928.00,68.59 L931.33,66.24 L934.67,48.94 L938.00,43.07 L941.33,40.01 L944.67,43.07 L948.00,48.11 L951.33,50.96 L954.67,58.18 L958.00,60.36 L961.33,67.41 L964.67,72.45 L968.00,74.13 L971.33,74.47 L974.67,78.33 L978.00,78.66 L981.33,73.29 L984.67,65.40 L988.00,66.58 L991.33,68.25 L994.67,66.58 L998.00,63.22 L1001.33,61.20 L1004.67,64.39 L1008.00,65.23" stroke="#da3048"/></g>
</g>
<!-- baseline label -->
<rect x="10" y="171.8" width="45.5" height="12" rx="3" fill="#fff" fill-opacity="0.94"/>
<text x="13.4" y="185.8" font-size="11" fill="#5f6577" stroke="#fff" stroke-width="9" stroke-opacity="0.95" stroke-linejoin="round" paint-order="stroke" textLength="38" lengthAdjust="spacingAndGlyphs">1,094.2</text>
<!-- watermark -->
<g fill="none" stroke="#cfd5e1" stroke-width="2.3" stroke-linecap="round" stroke-linejoin="round">
<path d="M873.6,311.6 A10.2,10.2 0 1 0 869.5,317.8"/>
<path d="M857,313.8 L862,305.2 L863.6,312.8 L868,306.2 C869.5,306.8 869.8,309 870.2,310.6 C870.7,312.6 872.6,312.6 873.6,311.6"/>
</g>
<text x="883.3" y="315.3" font-size="13" fill="#d0d5e0" stroke="#d0d5e0" stroke-width="0.7" textLength="108.2" lengthAdjust="spacingAndGlyphs">CoinMarketCap</text>
<!-- axes -->
<g class="ax"><text x="8.3" y="377.8" textLength="43" lengthAdjust="spacingAndGlyphs">6:00 PM</text><text x="106.5" y="377.8" textLength="43" lengthAdjust="spacingAndGlyphs">9:00 PM</text><text x="231.3" y="377.8" textLength="32.7" lengthAdjust="spacingAndGlyphs">19 Oct</text><text x="346.3" y="377.8" textLength="43.3" lengthAdjust="spacingAndGlyphs">3:00 AM</text><text x="466.3" y="377.8" textLength="43" lengthAdjust="spacingAndGlyphs">6:00 AM</text><text x="586" y="377.8" textLength="43" lengthAdjust="spacingAndGlyphs">9:00 AM</text><text x="703.4" y="377.8" textLength="47.6" lengthAdjust="spacingAndGlyphs">12:00 PM</text><text x="826.6" y="377.8" textLength="42.6" lengthAdjust="spacingAndGlyphs">3:00 PM</text><text x="946" y="377.8" textLength="43" lengthAdjust="spacingAndGlyphs">6:00 PM</text><text x="1013.5" y="50.6" textLength="34.6" lengthAdjust="spacingAndGlyphs">1,130.0</text><text x="1013.5" y="87.6" textLength="34.8" lengthAdjust="spacingAndGlyphs">1,120.0</text><text x="1013.5" y="124.6" textLength="33.1" lengthAdjust="spacingAndGlyphs">1,110.0</text><text x="1013.5" y="161.6" textLength="34.8" lengthAdjust="spacingAndGlyphs">1,100.0</text><text x="1013.5" y="198.6" textLength="37" lengthAdjust="spacingAndGlyphs">1,090.0</text><text x="1013.5" y="235.6" textLength="37" lengthAdjust="spacingAndGlyphs">1,080.0</text><text x="1013.5" y="272.6" textLength="36.2" lengthAdjust="spacingAndGlyphs">1,070.0</text><text x="1013.5" y="309.6" textLength="37" lengthAdjust="spacingAndGlyphs">1,060.0</text></g>
<text x="1019.7" y="358.9" font-size="11.3" font-weight="bold" fill="#747b8c" textLength="24.6" lengthAdjust="spacingAndGlyphs">USD</text>
<!-- badge -->
<rect x="1007" y="52" width="50.5" height="25.5" rx="3.5" fill="#16c784"/>
<text x="1013.5" y="69.3" font-size="11" fill="#fff" stroke="#fff" stroke-width="0.45" textLength="31.5" lengthAdjust="spacingAndGlyphs">1,125.1</text>
<!-- tag 34 -->
<path d="M8.2,396.5 L17,385.8 Q18.3,384.3 20.5,384.3 H42.5 A11.3,12.2 0 0 1 42.5,408.7 H20.5 Q18.3,408.7 17,407.2 Z" fill="#a6b0c3"/>
<g fill="none" stroke="#fff" stroke-width="1.5" stroke-linecap="round" stroke-linejoin="round">
<path d="M19.6,394.6 A5,5 0 1 1 19.3,398.2"/><path d="M18.2,392.6 V395.2 H20.8"/><path d="M24.2,393.8 V396.6 L26.2,398"/>
</g>
<text x="35" y="400.3" font-size="10.5" font-weight="bold" fill="#fff" textLength="12.6" lengthAdjust="spacingAndGlyphs">34</text>
<!-- analyze -->
<path d="M957.3,385.5 L961.8,381.4 L966.3,385.5 Z" fill="#3861fb"/>
<rect x="918.8" y="384.8" width="85.8" height="24" rx="12" fill="#3861fb"/>
<g fill="none" stroke="#fff" stroke-width="1.3" stroke-linecap="round" stroke-linejoin="round">
<path d="M927.2,403.3 L928.3,400.3 A6,6 0 1 1 930.5,402.3 Z"/>
<path d="M929.8,398.3 L931.5,394.6 L933.2,398.3 L935,394.6 L936.6,397.8"/>
<path d="M990.2,394.6 L993.8,398 L990.2,401.4" stroke-width="1.5"/>
</g>
<text x="943.3" y="400.8" font-size="11" font-weight="bold" fill="#fff" textLength="41" lengthAdjust="spacingAndGlyphs">Analyze</text>
<!-- navigator -->
<g class="grid nv"><line x1="8" x2="1007" y1="413.5" y2="413.5"/><line x1="60.5" x2="60.5" y1="413.5" y2="453"/><line x1="181.5" x2="181.5" y1="413.5" y2="453"/><line x1="303.5" x2="303.5" y1="413.5" y2="453"/><line x1="424.5" x2="424.5" y1="413.5" y2="453"/><line x1="545.5" x2="545.5" y1="413.5" y2="453"/><line x1="666.5" x2="666.5" y1="413.5" y2="453"/><line x1="788.5" x2="788.5" y1="413.5" y2="453"/><line x1="909.5" x2="909.5" y1="413.5" y2="453"/><line x1="8" x2="1007" y1="453.5" y2="453.5"/></g>
<path d="M437.00,453.00 L440.00,449.00 L442.00,446.50 L452.00,446.00 L455.00,443.00 L458.00,438.00 L460.00,441.00 L463.00,437.00 L466.00,435.50 L469.00,438.00 L472.00,442.00 L476.00,443.50 L480.00,444.00 L485.00,445.50 L490.00,445.50 L495.00,444.00 L500.00,441.50 L505.00,440.00 L510.00,441.50 L515.00,443.50 L520.00,441.00 L525.00,438.50 L529.00,435.50 L532.00,437.00 L536.00,436.50 L540.00,438.00 L545.00,438.50 L550.00,441.00 L555.00,442.50 L560.00,443.00 L565.00,443.50 L572.00,442.50 L578.00,442.00 L585.00,443.00 L590.00,444.50 L596.00,445.50 L600.00,447.00 L606.00,447.50 L612.00,446.50 L618.00,445.00 L624.00,445.50 L630.00,446.00 L636.00,445.50 L642.00,445.00 L648.00,444.00 L652.00,445.50 L658.00,446.50 L664.00,447.00 L670.00,446.00 L680.00,445.50 L690.00,445.00 L700.00,445.00 L710.00,445.50 L720.00,446.50 L730.00,447.00 L740.00,447.50 L750.00,447.50 L760.00,447.50 L770.00,447.00 L780.00,446.50 L788.00,446.00 L795.00,445.00 L802.00,444.50 L806.00,442.00 L812.00,438.50 L818.00,437.50 L826.00,437.50 L834.00,437.00 L842.00,436.50 L850.00,438.00 L856.00,437.50 L862.00,439.00 L870.00,438.00 L878.00,437.50 L886.00,436.50 L894.00,435.50 L900.00,434.50 L906.00,433.00 L912.00,433.50 L918.00,434.50 L924.00,435.50 L930.00,436.50 L936.00,436.00 L942.00,437.00 L950.00,436.00 L958.00,435.00 L966.00,434.50 L972.00,433.50 L978.00,431.00 L984.00,430.00 L990.00,428.50 L996.00,426.50 L1000.00,424.00 L1003.00,420.00 L1005.00,419.00 L1007.00,421.00 L1007.00,453.00 Z" fill="url(#ng)"/>
<g class="ax"><text x="48.2" y="469.9" textLength="25.6" lengthAdjust="spacingAndGlyphs">2018</text><text x="169.2" y="469.9" textLength="25.6" lengthAdjust="spacingAndGlyphs">2019</text><text x="290.7" y="469.9" textLength="25.6" lengthAdjust="spacingAndGlyphs">2020</text><text x="412.2" y="469.9" textLength="25.6" lengthAdjust="spacingAndGlyphs">2021</text><text x="533.2" y="469.9" textLength="25.6" lengthAdjust="spacingAndGlyphs">2022</text><text x="654.2" y="469.9" textLength="25.6" lengthAdjust="spacingAndGlyphs">2023</text><text x="775.2" y="469.9" textLength="25.6" lengthAdjust="spacingAndGlyphs">2024</text><text x="897.2" y="469.9" textLength="25.6" lengthAdjust="spacingAndGlyphs">2025</text></g>
<rect x="998.4" y="423.8" width="14.8" height="18.8" rx="6" fill="#fff" filter="url(#sh)"/>
<path d="M1004.4,429.3 V437.3 M1007.5,429.3 V437.3" stroke="#9aa1af" stroke-width="1.1"/>
</svg>
</body></html>
